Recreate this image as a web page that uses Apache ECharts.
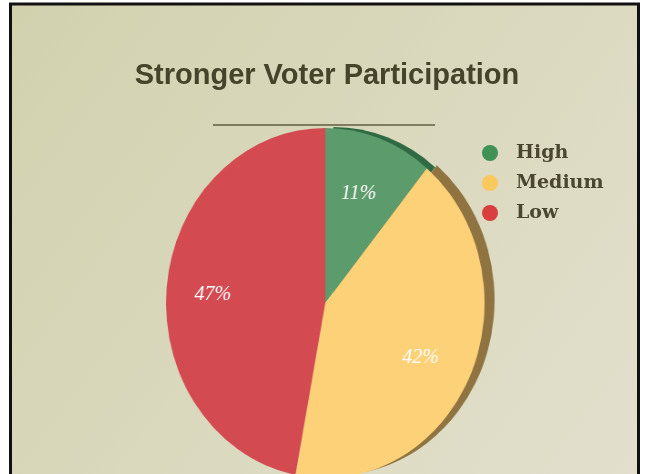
<!DOCTYPE html>
<html>
<head>
<meta charset="utf-8">
<script src="https://cdn.jsdelivr.net/npm/echarts@6/dist/echarts.min.js"></script>
<style>
html,body{margin:0;padding:0;background:#fff;}
#wrap{position:relative;width:645px;height:474px;overflow:hidden;}
#c{position:absolute;left:0;top:0;width:645px;height:474px;}
#p{position:absolute;left:0;top:0;width:645px;height:474px;transform:scaleX(0.91);transform-origin:318px 0;}
</style>
</head>
<body>
<div id="wrap">
<div id="c"></div>
<div id="p"></div>
</div>
<script>
var categories = ['High', 'Medium', 'Low'];
var values = [11, 42, 47];
var colors = ['#5c9b6b', '#fdd177', '#d34b51'];
var legendColors = ['#3f9155', '#f9c95e', '#d93f3f'];
var rimColors = ['#2f6a42', '#8f7442', 'rgba(0,0,0,0)'];
var titleText = 'Stronger Voter Participation';

var main = echarts.init(document.getElementById('c'), null, {renderer: 'canvas'});
var pie = echarts.init(document.getElementById('p'), null, {renderer: 'canvas'});

var legendData = categories.map(function (n, i) {
  return { name: n, value: values[i], itemStyle: { color: legendColors[i] } };
});
var labelData = categories.map(function (n, i) {
  return { name: n, value: values[i] };
});
var pieData = categories.map(function (n, i) {
  return {
    name: n, value: values[i],
    itemStyle: {
      color: colors[i],
      shadowColor: rimColors[i],
      shadowBlur: 0,
      shadowOffsetX: i === 0 ? 9 : 11,
      shadowOffsetY: i === 0 ? -1 : -3
    }
  };
});

main.setOption({
  animation: false,
  backgroundColor: '#ffffff',
  color: legendColors,
  graphic: [
    {
      type: 'rect', z: -10, silent: true,
      shape: { x: 10.5, y: 4, width: 628, height: 472 },
      style: {
        fill: new echarts.graphic.LinearGradient(0, 0, 1, 1, [
          { offset: 0, color: '#d2d1ae' },
          { offset: 1, color: '#e2e0cd' }
        ]),
        stroke: '#111', lineWidth: 3
      }
    },
    {
      type: 'line', z: 1, silent: true,
      shape: { x1: 213, y1: 125, x2: 435, y2: 125 },
      style: { stroke: '#5f5c40', lineWidth: 1.5 }
    }
  ],
  title: {
    text: titleText,
    left: 322, top: 56, textAlign: 'center',
    textStyle: {
      fontFamily: 'Liberation Sans', fontWeight: 'bold', fontSize: 29,
      color: '#45432a',
      textShadowColor: '#ffffff', textShadowOffsetX: 1, textShadowOffsetY: 1, textShadowBlur: 0
    }
  },
  legend: {
    data: categories,
    orient: 'vertical',
    left: 477, top: 137,
    itemWidth: 16, itemHeight: 16, itemGap: 8,
    icon: 'circle',
    selectedMode: false,
    textStyle: {
      fontFamily: 'DejaVu Serif', fontWeight: 'bold', fontSize: 19,
      color: '#4a4630', padding: [0, 0, 0, 13], lineHeight: 22,
      textShadowColor: '#ffffff', textShadowOffsetX: 1, textShadowOffsetY: 1, textShadowBlur: 0
    }
  },
  series: [
    {
      type: 'pie', name: 'LegendSource',
      center: [320, 300], radius: [0, 0],
      silent: true, label: { show: false }, labelLine: { show: false },
      data: legendData
    }
  ]
});

pie.setOption({
  animation: false,
  backgroundColor: 'transparent',
  color: colors,
  series: [
    {
      type: 'pie',
      name: 'Participation',
      center: [326, 303],
      radius: 175,
      startAngle: 90,
      clockwise: true,
      silent: true,
      label: { show: false },
      labelLine: { show: false },
      data: pieData
    },
    {
      type: 'pie',
      name: 'Labels',
      center: [322, 306],
      radius: 234,
      startAngle: 90,
      clockwise: true,
      silent: true,
      z: 5,
      itemStyle: { color: 'rgba(0,0,0,0)', borderWidth: 0 },
      label: {
        show: true, position: 'inside',
        formatter: '{c}%',
        fontFamily: 'Liberation Serif', fontStyle: 'italic', fontSize: 22,
        color: '#ffffff'
      },
      labelLine: { show: false },
      data: labelData
    }
  ]
});
</script>
</body>
</html>
